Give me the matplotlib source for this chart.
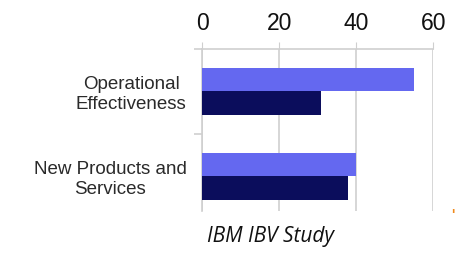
import matplotlib.pyplot as plt
import numpy as np

categories = ["Operational\nEffectiveness", "New Products and\nServices"]
light_values = [55, 40]
dark_values = [31, 38]
x_ticks = [0, 20, 40, 60]
caption = "IBM IBV Study"

LIGHT = "#6468f0"
DARK = "#0b0d5c"
GRID = "#cfcfcf"

plt.rcParams["font.family"] = ["Liberation Sans", "DejaVu Sans"]

fig = plt.figure(figsize=(4.56, 2.56), dpi=100)
axis = fig.add_axes([0.443, 0.176, 0.507, 0.633])

positions = np.arange(len(categories))
bar_height = 0.28
axis.barh(positions - bar_height / 2, light_values, height=bar_height, color=LIGHT, zorder=3)
axis.barh(positions + bar_height / 2, dark_values, height=bar_height, color=DARK, zorder=3)

axis.set_xlim(0, 60)
axis.set_ylim(1.406, -0.5)
axis.set_xticks(x_ticks)
axis.xaxis.tick_top()
axis.tick_params(axis="x", length=5, color=GRID, labelsize=16.5, pad=5, labelcolor="#111111")
axis.grid(axis="x", color=GRID, linewidth=1.2, zorder=0)

axis.set_yticks(positions)
axis.set_yticklabels(categories, fontsize=13.5, color="#2a2a2a", multialignment="center", linespacing=1.2)
axis.set_yticks([-0.5, 0.5], minor=True)
axis.tick_params(axis="y", which="major", length=0, pad=11)
axis.tick_params(axis="y", which="minor", length=6, color=GRID, width=1.2)

for side in ("right", "bottom"):
    axis.spines[side].set_visible(False)
for side in ("left", "top"):
    axis.spines[side].set_color(GRID)
    axis.spines[side].set_linewidth(1.2)

fig.text(0.594, 0.078, caption, fontsize=15, style="italic", family=["Open Sans", "DejaVu Sans"],
         ha="center", va="center", color="#111111")
fig.text(0.993, 0.16, "'", fontsize=10, color="#f08a1c", ha="center", va="center", weight="bold")

plt.savefig("out.png", dpi=100)
plt.close()
